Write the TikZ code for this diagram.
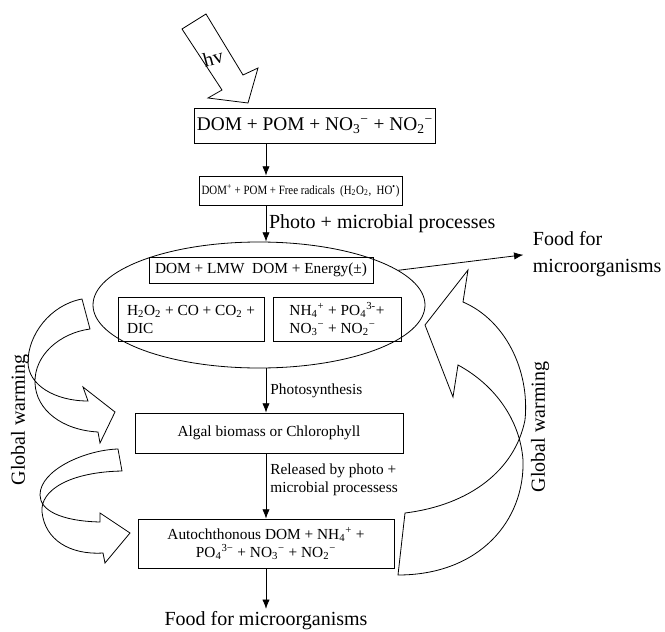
\documentclass[tikz,border=0pt]{standalone}
\usepackage{fontspec}
\setmainfont{Liberation Serif}
\newfontfamily\narrowfont[FakeStretch=0.86]{Liberation Serif}
\usetikzlibrary{shapes.geometric,arrows.meta}

\tikzstyle{box} = [rectangle, draw, line width=0.6pt, align=center, inner sep=2pt, font=\fontsize{11.5}{13.5}\selectfont]
\tikzstyle{big} = [inner sep=2pt, font=\fontsize{15}{20}\selectfont]
\tikzstyle{small} = [inner sep=3pt, font=\fontsize{11.5}{13.5}\selectfont]
\tikzstyle{ribbon} = [draw, line width=0.6pt]

\newcommand{\ionsc}[2]{\textsubscript{#1}\textsuperscript{#2}}

\begin{document}
\begin{tikzpicture}[x=0.75pt, y=-0.75pt]
        \tikzset{arr/.style={-{Latex[length=7pt,width=5.5pt]}, line width=0.6pt}}
        \useasboundingbox (0,0) rectangle (665,632);

        % sunlight
        \draw[ribbon] (182,29) -- (206,14) -- (243,75) -- (258,68) -- (248,103) -- (208,98) -- (222,90) -- cycle;
        \node (hv) at (213,58) [big, rotate=15] {hv};

        % chain of boxes
        \node (dom) at (315,125.5) [box, minimum width=165pt, minimum height=26.25pt, font=\fontsize{14.5}{17}\selectfont] {DOM + POM + NO\ionsc{3}{−} + NO\ionsc{2}{−}};
        \node (rad) at (300.5,190.5) [box, minimum width=146.25pt, minimum height=21.75pt, font=\narrowfont\fontsize{9.5}{11}\selectfont] {DOM\textsuperscript{+} + POM + Free radicals~ (H\textsubscript{2}O\textsubscript{2},~ HO\textsuperscript{•})};
        \node (ell) at (259,305) [ellipse, draw, line width=0.6pt, minimum width=249pt, minimum height=94.5pt, inner sep=0pt] {};
        \node (lmw) at (261,270) [box, minimum width=168pt, minimum height=19.5pt] {DOM + LMW~ DOM + Energy(±)};
        \node (dic) at (191,319) [box, minimum width=109.5pt, minimum height=33pt, align=left] {H\textsubscript{2}O\textsubscript{2} + CO + CO\textsubscript{2} +\\DIC};
        \node (nut) at (337,319) [box, minimum width=96pt, minimum height=33pt, align=left] {NH\ionsc{4}{+} + PO\ionsc{4}{3-}+\\NO\ionsc{3}{−} + NO\ionsc{2}{−}};
        \node (alg) at (269,433) [box, minimum width=201pt, minimum height=30pt] {Algal biomass or Chlorophyll};
        \node (aut) at (266,543.5) [box, minimum width=192pt, minimum height=36.75pt] {Autochthonous DOM + NH\ionsc{4}{+} +\\PO\ionsc{4}{3−} + NO\ionsc{3}{−} + NO\ionsc{2}{−}};
        \node (food1) at (530,254) [big, anchor=west, align=left] {Food for\\microorganisms};
        \node (food2) at (266,621) [big] {Food for microorganisms};

        \draw[arr] (dom.south -| aut) -- (rad.north -| aut);
        \draw[arr] (rad.south -| aut) -- node[right, big] {Photo + microbial processes} (ell.north -| aut);
        \draw[arr] (ell.south -| aut) -- node[right, small] {Photosynthesis} (alg.north -| aut);
        \draw[arr] (alg.south -| aut) -- node[right, small, pos=0.4, align=left] {Released by photo +\\microbial processess} (aut.north);
        \draw[arr] (aut.south) -- (food2.north);
        \draw[arr, shorten >=5pt] (ell.14) -- (food1.west);

        % global warming, left
        \draw[ribbon] (82,299) .. controls (50,305) and (28,335) .. (28,362) .. controls (28,385) and (55,401) .. (88,401) -- (83,387) -- (115,412) -- (100,443) -- (98,432) .. controls (62,430) and (36,410) .. (35,383) .. controls (34,355) and (60,333) .. (90,329) -- cycle;
        \draw[ribbon] (118,449) .. controls (85,450) and (40,470) .. (40,495) .. controls (40,510) and (60,521) .. (100,522) -- (100,513) -- (130,533) -- (105,563) -- (103,553) .. controls (70,555) and (45,540) .. (42,512) .. controls (40,490) and (70,472) .. (122,471) -- cycle;
        \node (gw1) at (20,420) [big, rotate=90] {Global warming};

        % global warming, right
        \draw[ribbon] (463,302) -- (468,270) -- (425,325) -- (453,397) -- (458,365) .. controls (495,385) and (520,420) .. (523,460) .. controls (525,520) and (480,575) .. (398,575) -- (405,513) .. controls (470,505) and (515,470) .. (525,420) .. controls (530,370) and (505,320) .. cycle;
        \node (gw2) at (540,427) [big, rotate=90] {Global warming};
\end{tikzpicture}
\end{document}
